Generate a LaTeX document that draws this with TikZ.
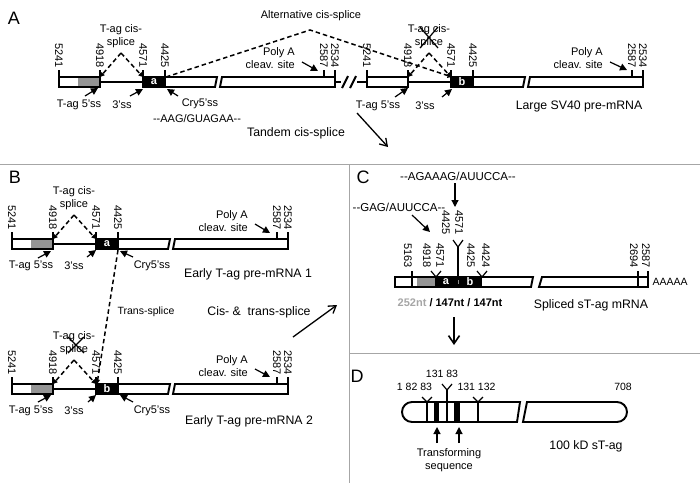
\documentclass[tikz,border=0pt]{standalone}
\usepackage{fontspec}
\setmainfont{Liberation Sans}
\usetikzlibrary{arrows.meta}
\newcommand\genebar[5]{%
 \begin{scope}[shift={(#1,#2)}]
  \fill[white] (0,0) rectangle (41,10);
  \ifnum#3=1 \fill[black!42] (19,0) rectangle (41,10);\fi
  \draw[bar] (0,0) rectangle (41,10);
  \draw[line width=2pt] (41,5) -- (84,5);
  \draw[bar, fill=black] (84,0) rectangle (106,10);
  \node[white, inner sep=0pt, font=\bfseries\fontsize{11}{13}\selectfont] (#5box) at (95,5) {#4};
  \draw[bar, fill=white] (106,0) -- (158,0) -- (156,10) -- (106,10) -- cycle;
  \draw[bar, fill=white] (163,0) -- (276,0) -- (276,10) -- (161,10) -- cycle;
  \foreach \t in {0,41,84,106,265,276} \draw[line width=1.1pt] (\t,0) -- (\t,-7);
  \node[num] (#5n1) at (0,-9) {5241};
  \node[num] (#5n2) at (41,-9) {4918};
  \node[num] (#5n3) at (84,-9) {4571};
  \node[num] (#5n4) at (106,-9) {4425};
  \node[num] (#5n5) at (265,-9) {2587};
  \node[num] (#5n6) at (276,-9) {2534};
  \coordinate (#5apex) at (62,-24);
  \draw[darrow] (#5apex) -- (41,0);
  \draw[darrow] (#5apex) -- (84,0);
  \node[lbl, align=center] (#5cis) at (62,-41) {T-ag cis-\\splice};
 \end{scope}}
\begin{document}
\begin{tikzpicture}[x=1pt,y=-1pt,
  lbl/.style={font=\fontsize{11}{13}\selectfont, inner sep=0pt},
  big/.style={font=\fontsize{12.3}{14}\selectfont, inner sep=0pt},
  num/.style={font=\fontsize{11}{13}\selectfont, rotate=-90, anchor=east, inner sep=0pt},
  dnum/.style={font=\fontsize{10.5}{12}\selectfont, inner sep=0pt},
  panel/.style={font=\fontsize{18}{20}\selectfont, inner sep=0pt},
  bar/.style={draw=black, line width=1.9pt},
  sep/.style={draw=black!35, line width=1pt},
  sarrow/.style={line width=1.2pt, -{Triangle[length=7pt,width=7pt]}},
  darrow/.style={dash pattern=on 4.5pt off 3pt, line width=1.5pt, -{Triangle[length=4.5pt,width=4.5pt]}},
  barrow/.style={line width=1.3pt, -{Straight Barb[length=7pt,width=9pt]}},
  markline/.style={line width=1.2pt}]
\useasboundingbox (0,0) rectangle (700,483);
% separators
\draw[sep] (0,164) -- (700,164);
\draw[sep] (349,164) -- (349,483);
\draw[sep] (349,353) -- (700,353);
% panel letters
\node[panel] (lA) at (14,18) {A};
\node[panel] (lB) at (15,177) {B};
\node[panel] (lC) at (363,177) {C};
\node[panel] (lD) at (357,376) {D};

% ================= Panel A
\genebar{59}{77}{1}{a}{A1}
\genebar{367}{77}{0}{b}{A2}
\draw[line width=1.9pt] (335,82) -- (341,82);
\draw[line width=2pt] (342,88) -- (348,76);
\draw[line width=2pt] (350,88) -- (356,76);
\draw[line width=1.9pt] (357,82) -- (367,82);
\draw[markline] (420,27) -- (438,48) (438,27) -- (420,48);
\coordinate (altS) at (166,77);
\coordinate (altT) at (310,30);
\coordinate (altE) at (452,77);
\draw[darrow] (altS) -- (altT) -- (altE);
\node[lbl] (alt) at (311,16) {Alternative cis-splice};
\node[lbl] (A1t5) at (79,105) {T-ag 5’ss};
\draw[sarrow] (85,96) -- (98,88);
\node[lbl] (A1t3) at (122,105) {3’ss};
\draw[sarrow] (130,96) -- (143,89);
\node[lbl] (A1cry) at (200,104) {Cry5’ss};
\draw[sarrow] (178,96) -- (167,89);
\node[lbl] (A1seq) at (197,119) {-{}-AAG/GUAGAA-{}-};
\node[lbl, align=right, anchor=east] (A1poly) at (295,58) {Poly A\\cleav. site};
\draw[sarrow] (302,62) -- (318,71);
\node[lbl] (A2t5) at (378,106) {T-ag 5’ss};
\draw[sarrow] (395,97) -- (408,88);
\node[lbl] (A2t3) at (425,106) {3’ss};
\draw[sarrow] (442,97) -- (452,89);
\node[lbl, align=right, anchor=east] (A2poly) at (603,58) {Poly A\\cleav. site};
\draw[sarrow] (610,62) -- (627,70);
\node[big] (large) at (579,106) {Large SV40 pre-mRNA};
\node[big] (tandem) at (296,133) {Tandem cis-splice};
\draw[barrow] (357,113) -- (388,147);

% ================= Panel B
\genebar{12}{239}{1}{a}{B1}
\genebar{12}{384}{1}{b}{B2}
\draw[markline] (68,337) -- (84,353) (84,337) -- (68,353);
\node[lbl] (B1t5) at (31,266) {T-ag 5’ss};
\draw[sarrow] (38,258) -- (51,251);
\node[lbl] (B1t3) at (74,266) {3’ss};
\draw[sarrow] (87,257) -- (96,250);
\node[lbl] (B1cry) at (152,266) {Cry5’ss};
\draw[sarrow] (133,257) -- (120,251);
\node[lbl, align=right, anchor=east] (B1poly) at (248,221) {Poly A\\cleav. site};
\draw[sarrow] (255,224) -- (270,233);
\node[big] (early1) at (248,274) {Early T-ag pre-mRNA 1};
\node[lbl] (B2t5) at (31,411) {T-ag 5’ss};
\draw[sarrow] (38,402) -- (51,395);
\node[lbl] (B2t3) at (74,411) {3’ss};
\draw[sarrow] (88,402) -- (96,395);
\node[lbl] (B2cry) at (152,411) {Cry5’ss};
\draw[sarrow] (133,402) -- (120,395);
\node[lbl, align=right, anchor=east] (B2poly) at (248,366) {Poly A\\cleav. site};
\draw[sarrow] (255,369) -- (270,377);
\node[big] (early2) at (249,421) {Early T-ag pre-mRNA 2};
\coordinate (trS) at (118,250);
\coordinate (trE) at (97,384);
\draw[darrow] (trS) -- (trE);
\node[font=\fontsize{10.5}{12}\selectfont, inner sep=0pt] (trans) at (146,312) {Trans-splice};
\node[big] (cistrans) at (259,312) {Cis- \&\ \ trans-splice};
\draw[barrow] (293,337) -- (337,305);

% ================= Panel C
\fill[white] (395,277) rectangle (417,287);
\fill[black!42] (417,277) rectangle (435,287);
\fill[black] (435,277) rectangle (482,287);
\draw[bar, fill=white] (482,277) -- (533,277) -- (531,287) -- (482,287);
\draw[bar] (482,277) -- (395,277) -- (395,287) -- (482,287);
\draw[bar, fill=white] (542,277) -- (648,277) -- (648,287) -- (539,287) -- cycle;
\draw[black!45, line width=1pt] (458,280) -- (458,284);
\node[white, inner sep=0pt, font=\bfseries\fontsize{11}{13}\selectfont] (ca) at (446,282) {a};
\node[white, inner sep=0pt, font=\bfseries\fontsize{11}{13}\selectfont] (cb) at (470,282) {b};
\draw[markline] (412,271) -- (412,287);
\draw[markline] (638,271) -- (638,287);
\draw[markline] (648,271) -- (648,277);
\draw[markline] (431,271) -- (436,277) -- (441,271);
\draw[markline] (453,240) -- (458,247) -- (463,240);
\draw[markline] (458,247) -- (458,277);
\draw[markline] (477,271) -- (482,277) -- (487,271);
\node[num] (c5163) at (408,268) {5163};
\node[num] (c4918) at (427,268) {4918};
\node[num] (c4571a) at (440,268) {4571};
\node[num] (c4425a) at (446,235) {4425};
\node[num] (c4571b) at (459,235) {4571};
\node[num] (c4425b) at (471,268) {4425};
\node[num] (c4424) at (486,268) {4424};
\node[num] (c2694) at (634,268) {2694};
\node[num] (c2587) at (646,268) {2587};
\node[font=\fontsize{10.5}{12}\selectfont, inner sep=0pt] (polyA) at (670,282) {AAAAA};
\node[font=\fontsize{11.5}{13}\selectfont, inner sep=0pt] (seq1) at (458,176) {-{}-AGAAAG/AUUCCA-{}-};
\draw[sarrow] (455,183) -- (455,207);
\node[font=\fontsize{11.5}{13}\selectfont, inner sep=0pt] (seq2) at (399,207) {-{}-GAG/AUUCCA-{}-};
\draw[sarrow] (412,215) -- (430,232);
\node[font=\bfseries\fontsize{11}{13}\selectfont, inner sep=0pt] (nts) at (450,303) {\textcolor{black!35}{252nt} / 147nt / 147nt};
\node[big] (spliced) at (591,305) {Spliced sT-ag mRNA};
\draw[line width=1.6pt, -{Straight Barb[length=8pt,width=11pt]}] (454,317) -- (454,345);

% ================= Panel D
\draw[bar, fill=white] (520,402) -- (412,402) arc[start angle=90, end angle=270, radius=10pt] -- (517,422) -- cycle;
\draw[bar, fill=white] (527,402) -- (617,402) arc[start angle=90, end angle=-90, radius=10pt] -- (523,422) -- cycle;
\fill[black] (434,402) rectangle (439,422);
\fill[black] (454,402) rectangle (460,422);
\draw[markline] (427,402) -- (427,422);
\draw[markline] (478,402) -- (478,422);
\draw[markline] (447,390) -- (447,422);
\draw[markline] (422,397) -- (427,402) -- (432,397);
\draw[markline] (473,397) -- (478,402) -- (483,397);
\draw[markline] (442,384) -- (447,390) -- (452,384);
\node[dnum] (d1) at (414.5,387) {1 82 83};
\node[dnum] (d2) at (442,374) {131 83};
\node[dnum] (d3) at (476.5,387) {131 132};
\node[dnum] (d4) at (623,387) {708};
\node[lbl, align=center] (transf) at (449,460) {Transforming\\sequence};
\draw[sarrow] (437,443) -- (437,427);
\draw[sarrow] (459,443) -- (459,427);
\node[big] (stag) at (586,446) {100 kD sT-ag};
\end{tikzpicture}
\end{document}
